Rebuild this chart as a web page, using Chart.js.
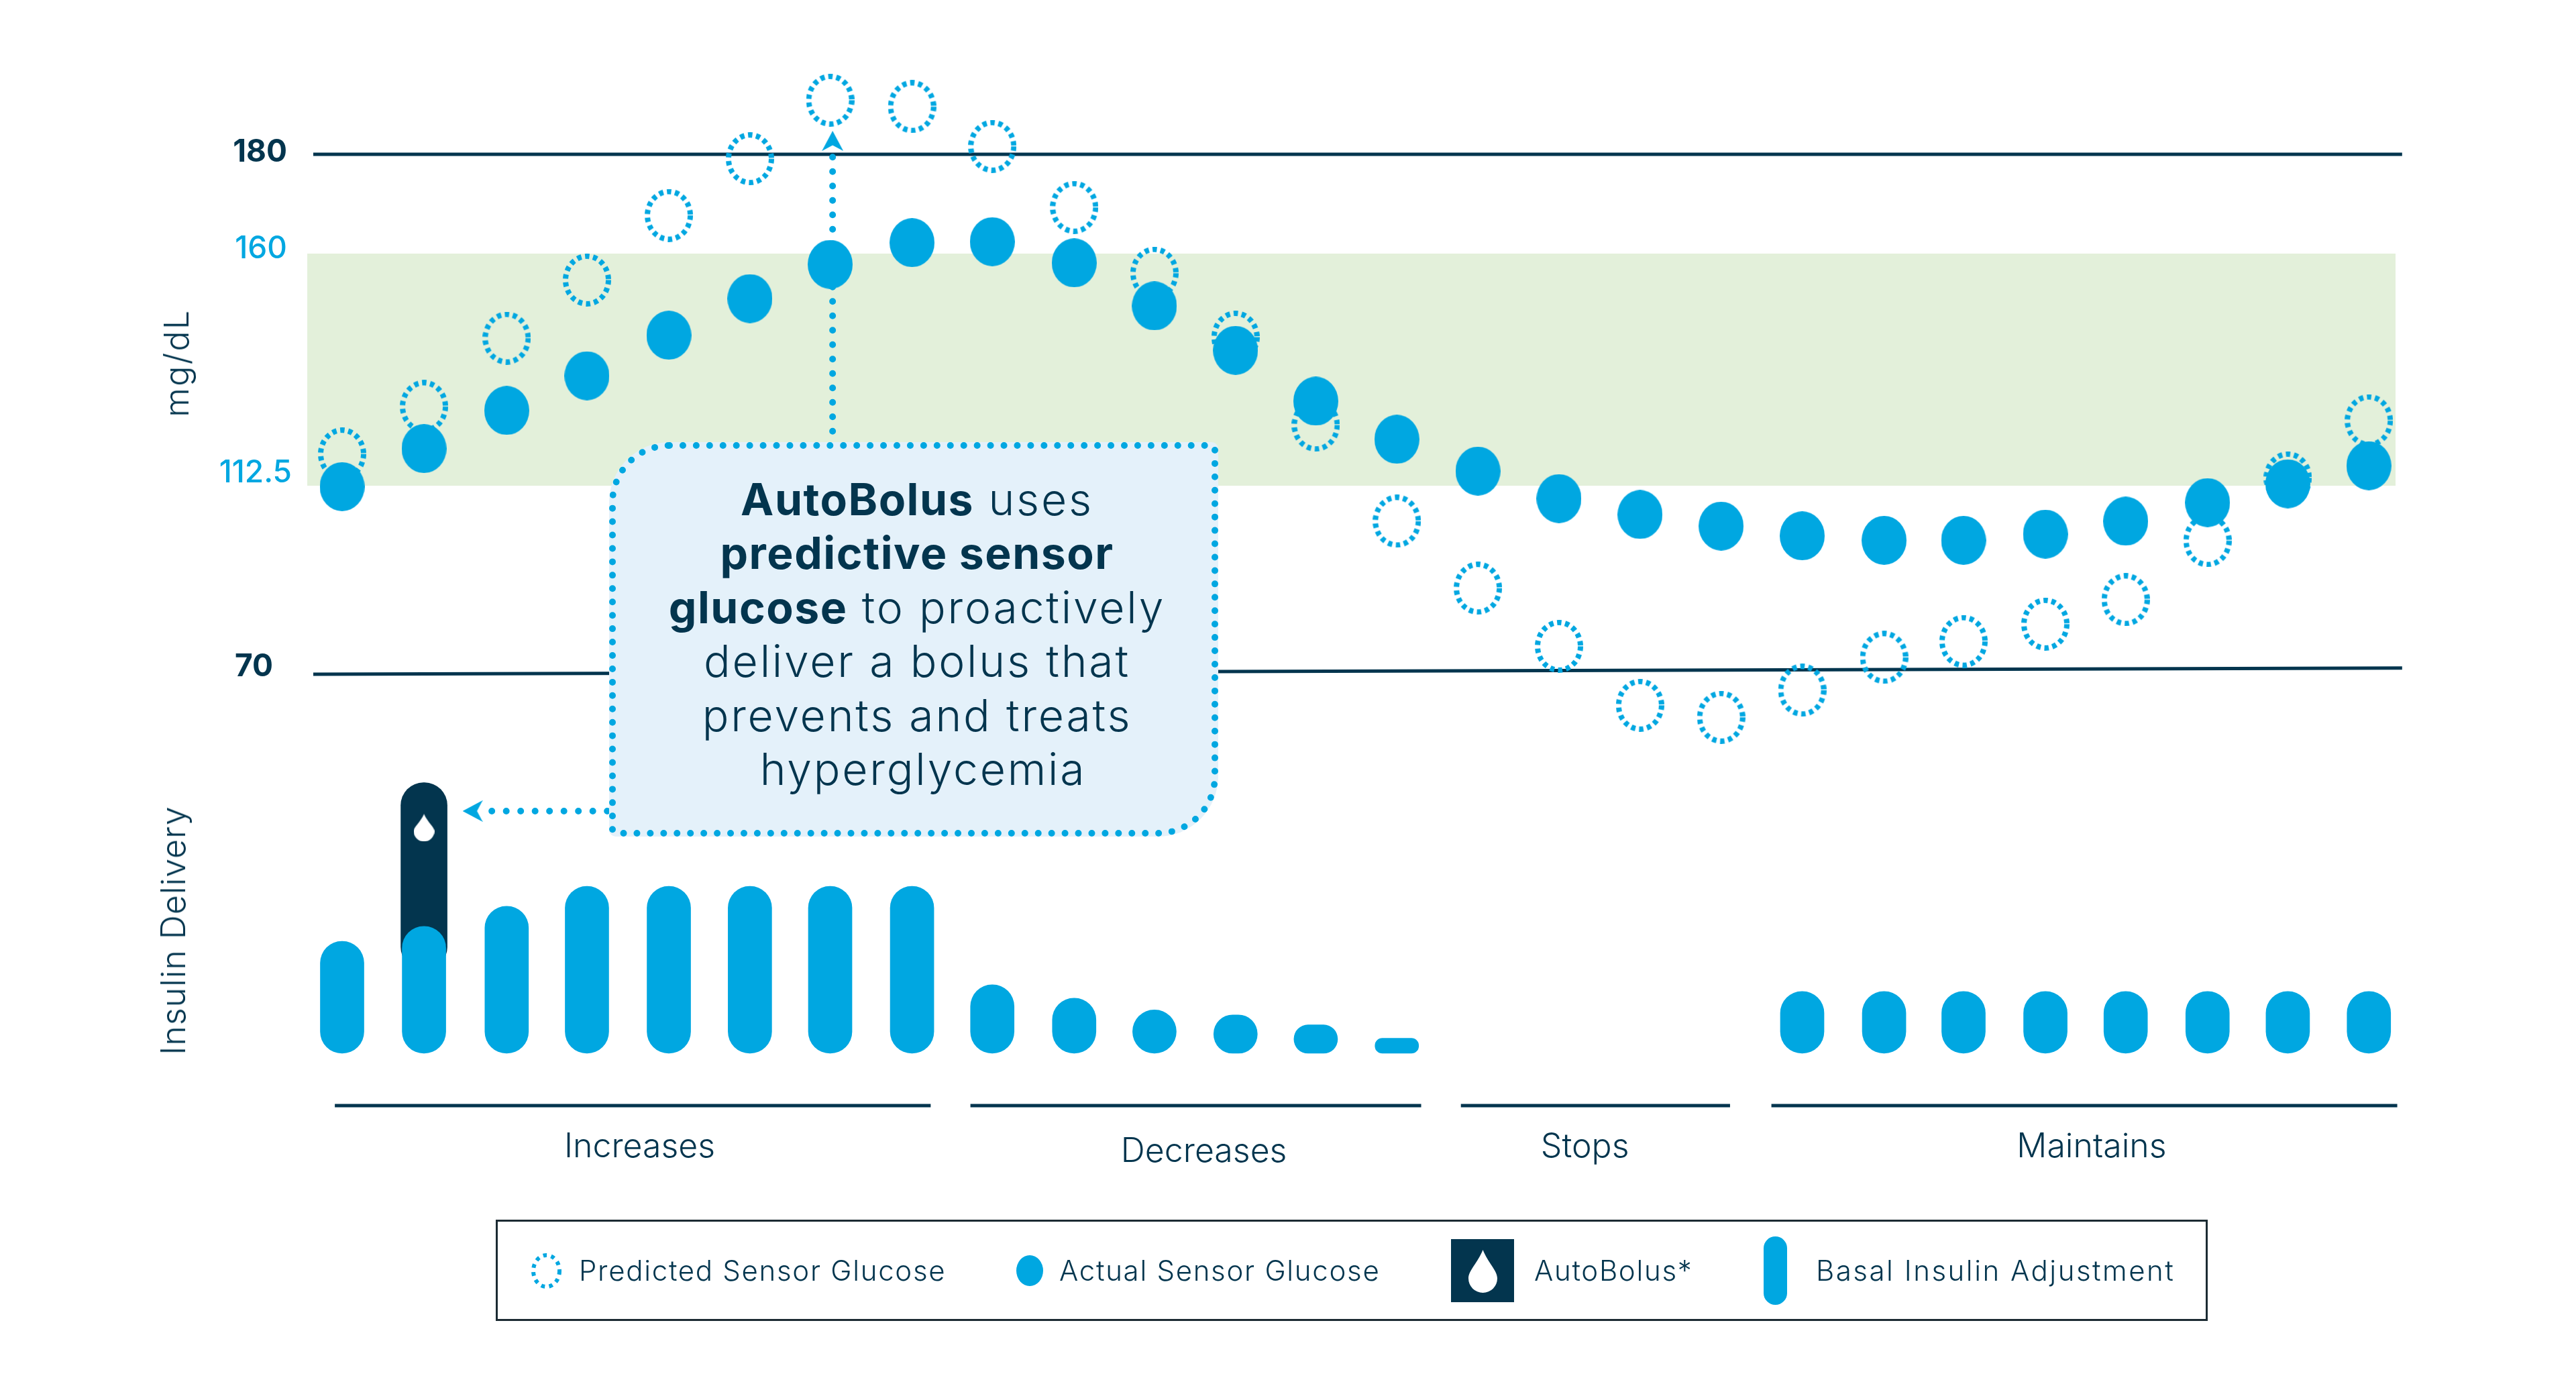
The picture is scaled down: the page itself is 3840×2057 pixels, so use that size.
<!DOCTYPE html>
<html>
<head>
<meta charset="utf-8">
<title>AutoBolus</title>
<script src="https://cdn.jsdelivr.net/npm/chart.js@4/dist/chart.umd.js"></script>
<style>
    body { margin: 0; background: #fff; font-family: Inter, sans-serif; color: #03354e; }
    #wrap { position: relative; width: 3840px; height: 2057px; overflow: hidden; }
    #chart { position: absolute; left: 0; top: 0; }
    .axisTitle { position: absolute; font-size: 50px; font-weight: 300; white-space: nowrap; transform: translate(-50%, -50%) rotate(-90deg); }
    #callout {
        position: absolute; left: 908px; top: 659px; width: 908px; height: 588px; box-sizing: border-box;
        border: 10px dotted #00a7e1; border-radius: 90px 10px 90px 10px; background: #e4f1fa;
        padding-top: 35px; padding-left: 10px; text-align: center;
        font-size: 66px; line-height: 80.4px; font-weight: 300; letter-spacing: 2.8px; white-space: nowrap;
    }
    #callout b { font-weight: 700; letter-spacing: 1.5px; }
    #legendBox { position: absolute; left: 739px; top: 1818px; width: 2552px; height: 151px; box-sizing: border-box; border: 3px solid #1c2b33; }
    .legendText { position: absolute; top: 1869px; font-size: 42px; line-height: 50px; font-weight: 300; letter-spacing: 1.7px; white-space: nowrap; }
    .legendIcon { position: absolute; }
</style>
</head>
<body>
<div id="wrap">
    <canvas id="chart" width="3840" height="2057"></canvas>
    <div class="axisTitle" style="left:263px; top:541px; letter-spacing:2.4px;">mg/dL</div>
    <div class="axisTitle" style="left:258px; top:1387px; letter-spacing:1px;">Insulin Delivery</div>
    <div id="callout"><b>AutoBolus</b> uses<br><b>predictive sensor</b><br><b>glucose</b> to proactively<br>deliver a bolus that<br>prevents and treats<br><span style="position:relative; left:9px;">hyperglycemia</span></div>
    <div id="legendBox"></div>
    <div class="legendText" style="left:863px;">Predicted Sensor Glucose</div>
    <div class="legendText" style="left:1579px;">Actual Sensor Glucose</div>
    <div class="legendIcon" style="left:2163px; top:1847px; width:94px; height:94px; background:#03354e;"></div>
    <div class="legendText" style="left:2287px;">AutoBolus*</div>
    <div class="legendIcon" style="left:2629px; top:1843px; width:35px; height:102px; border-radius:18px; background:#00a7e1;"></div>
    <div class="legendText" style="left:2707px; letter-spacing:2.5px;">Basal Insulin Adjustment</div>
</div>

<script>
// Time slots along the x axis (the spacing is not perfectly even)
const slots = [0, 1.01, 2.03, 3.02, 4.03, 5.03, 6.02, 7.03, 8.02, 9.03, 10.02, 11.02, 12.01,
    13.01, 14.01, 15.01, 16.01, 17.01, 18.01, 19.02, 20, 21.01, 22, 23.01, 24, 25];

// Sensor glucose (mg/dL)
const actualGlucose = [112.3, 120.1, 127.9, 135, 143.3, 150.8, 157.8, 162.2, 162.4, 158.1, 149.3, 140.2, 129.8,
    122, 115.5, 109.6, 106, 103.4, 101.2, 100.2, 100.2, 101.6, 104.5, 108.7, 112.9, 116.6];
const predictedGlucose = [119, 128.7, 142.7, 154.6, 167.7, 179.1, 190.9, 189.6, 181.6, 169.3, 156, 142.9, 124.9,
    104.5, 89.4, 76.3, 63, 60.3, 66.4, 73.8, 77.4, 81.3, 86.8, 100.1, 114.1, 125.8];

// Insulin delivery, relative units
const basalInsulin = [6.7, 7.6, 8.8, 10, 10, 10, 10, 10, 4.1, 3.3, 2.6, 2.3, 1.7, 0.9, 0, 0, 0, 0,
    3.7, 3.7, 3.7, 3.7, 3.7, 3.7, 3.7, 3.7];
const autoBolusSlot = 1.01;
const autoBolusRange = [5, 16.2];
const autoBolusDropLevel = 13.5;

// Axis ticks and target range
const glucoseTicks = [180, 160, 112.5, 70];
const glucoseTickColors = ['#03354e', '#00a7e1', '#00a7e1', '#03354e'];
const glucoseTickWeights = [700, 500, 500, 700];
const targetRange = [112.5, 160];
const lowLimitLine = [70, 71.4];   // the line leans a little in the picture
const highLimitLine = [180, 180];

// Group brackets under the bars
const groupLabels = ['Increases', 'Decreases', 'Stops', 'Maintains'];
const groupCenters = [3.67, 10.63, 15.33, 21.58];
const groupStarts = [-0.09, 7.75, 13.8, 17.63];
const groupEnds = [7.26, 13.31, 17.12, 25.35];
const groupLineLevel = -3.13;

// Dotted arrows from the callout
const upArrowSlot = 6.05;
const upArrowGlucose = [120.7, 179.5];
const upArrowHead = 182.7;
const leftArrowSlots = [3.27, 1.72];
const leftArrowHeadSlot = 1.61;
const leftArrowLevel = 14.5;

const DARK = '#03354e';
const BLUE = '#00a7e1';

// Chart area in the page
const AREA_TOP = 0;
const AREA_BOTTOM = 1662;
const AREA_LEFT = 458;
const AREA_RIGHT = 3640;

// Small nudges of tick labels [dx, dy], the picture does not sit them on the lines
const labelShifts = {
    y: [[0, -3], [0, -7], [7, -19], [-21, -11]],
    x: [[0, 0], [0, 7], [0, 0], [0, 0]]
};

class ShiftedScale extends Chart.LinearScale {
    static id = 'shifted';
    static defaults = Chart.LinearScale.defaults;
    // The chart area is fixed by hand, labels must not push it in
    getPadding() {
        return { left: 0, top: 0, right: 0, bottom: 0 };
    }
    _computeLabelItems(chartArea) {
        const items = super._computeLabelItems(chartArea);
        const shifts = labelShifts[this.id] || [];
        items.forEach((item, i) => {
            if (shifts[i]) {
                const t = item.options.translation;
                item.options.translation = [t[0] + shifts[i][0], t[1] + shifts[i][1]];
            }
        });
        return items;
    }
}

// The picture's glucose axis is not quite linear, so map it piece by piece
class GlucoseScale extends ShiftedScale {
    static id = 'glucose';
    static defaults = Chart.LinearScale.defaults;
    getPixelForValue(value) {
        const fracs = [230, 378, 724, 1005].map(p => (p - AREA_TOP) / (AREA_BOTTOM - AREA_TOP));
        let i = 0;
        while (i < glucoseTicks.length - 2 && value < glucoseTicks[i + 1]) i++;
        const t = (glucoseTicks[i] - value) / (glucoseTicks[i] - glucoseTicks[i + 1]);
        return this.top + (fracs[i] + t * (fracs[i + 1] - fracs[i])) * this.height;
    }
}
Chart.register(ShiftedScale, GlucoseScale);

// Dashed ring for predicted glucose
function makeRing(w, h, lineWidth, dash, gap) {
    const c = document.createElement('canvas');
    c.width = w;
    c.height = h;
    const ctx = c.getContext('2d');
    ctx.strokeStyle = BLUE;
    ctx.lineWidth = lineWidth;
    ctx.setLineDash([dash, gap]);
    ctx.beginPath();
    ctx.ellipse(w / 2, h / 2, w / 2 - lineWidth / 2, h / 2 - lineWidth / 2, 0, 0, Math.PI * 2);
    ctx.stroke();
    return c;
}

// Filled oval for actual glucose
function makeOval(w, h) {
    const c = document.createElement('canvas');
    c.width = w;
    c.height = h;
    const ctx = c.getContext('2d');
    ctx.fillStyle = BLUE;
    ctx.beginPath();
    ctx.ellipse(w / 2, h / 2, w / 2, h / 2, 0, 0, Math.PI * 2);
    ctx.fill();
    return c;
}

// White insulin drop
function makeDrop(w, h) {
    const c = document.createElement('canvas');
    c.width = w;
    c.height = h;
    const ctx = c.getContext('2d');
    const r = w / 2;
    ctx.fillStyle = '#fff';
    ctx.beginPath();
    ctx.moveTo(r, 0);
    ctx.bezierCurveTo(r + r * 0.35, h * 0.3, w, h * 0.48, w, h - r);
    ctx.arc(r, h - r, r, 0, Math.PI);
    ctx.bezierCurveTo(0, h * 0.48, r - r * 0.35, h * 0.3, r, 0);
    ctx.fill();
    return c;
}

// Notched arrow head, pointing up
function makeArrowHead(w, h) {
    const c = document.createElement('canvas');
    c.width = w;
    c.height = h;
    const ctx = c.getContext('2d');
    ctx.fillStyle = BLUE;
    ctx.beginPath();
    ctx.moveTo(w / 2, 0);
    ctx.lineTo(w, h);
    ctx.lineTo(w / 2, h * 0.72);
    ctx.lineTo(0, h);
    ctx.closePath();
    ctx.fill();
    return c;
}

function flatLine(startX, endX, values, extra) {
    return Object.assign({
        type: 'line',
        data: [{ x: startX, y: values[0] }, { x: endX, y: values[1] }],
        borderColor: DARK,
        borderWidth: 5,
        pointRadius: 0,
        tension: 0,
        clip: false,
        yAxisID: 'y'
    }, extra);
}

function singlePoint(label, x, y, image, axis, order, rotation) {
    return {
        type: 'line',
        label: label,
        data: [{ x: x, y: y }],
        showLine: false,
        pointStyle: image,
        pointRadius: 10,
        pointRotation: rotation || 0,
        clip: false,
        yAxisID: axis,
        order: order
    };
}

function dottedLine(label, data, axis) {
    return {
        type: 'line',
        label: label,
        data: data,
        borderColor: BLUE,
        borderWidth: 10,
        borderCapStyle: 'round',
        borderDash: [0, 21.5],
        pointRadius: 0,
        clip: false,
        yAxisID: axis,
        order: 7
    };
}

function addLegendIcon(canvas, left, top) {
    canvas.className = 'legendIcon';
    canvas.style.left = left + 'px';
    canvas.style.top = top + 'px';
    document.getElementById('wrap').appendChild(canvas);
}

// Group brackets
const groupLineSets = groupLabels.map((name, i) => flatLine(groupStarts[i], groupEnds[i], [groupLineLevel, groupLineLevel], {
    label: name,
    yAxisID: 'yIns',
    order: 8
}));

const chart = new Chart(document.getElementById('chart').getContext('2d'), {
    type: 'line',
    data: {
        datasets: [
            // Target range band
            flatLine(-0.43, 25.33, [targetRange[1], targetRange[1]], {
                label: 'Range top', borderWidth: 0, borderColor: 'transparent',
                backgroundColor: '#e3f0da', fill: '+1', order: 10
            }),
            flatLine(-0.43, 25.33, [targetRange[0], targetRange[0]], {
                label: 'Range bottom', borderWidth: 0, borderColor: 'transparent', order: 10
            }),
            // Limit lines
            flatLine(-0.356, 25.41, highLimitLine, { label: '180 line', order: 9 }),
            flatLine(-0.356, 25.41, lowLimitLine, { label: '70 line', order: 9 }),
            ...groupLineSets,
            // Dotted arrows
            dottedLine('Up arrow', upArrowGlucose.map(v => ({ x: upArrowSlot, y: v })), 'y'),
            singlePoint('Up arrow head', upArrowSlot, upArrowHead, makeArrowHead(32, 30), 'y', 7),
            dottedLine('Left arrow', leftArrowSlots.map(s => ({ x: s, y: leftArrowLevel })), 'yIns'),
            singlePoint('Left arrow head', leftArrowHeadSlot, leftArrowLevel, makeArrowHead(32, 30), 'yIns', 7, -90),
            // Predicted sensor glucose
            {
                type: 'line',
                label: 'Predicted Sensor Glucose',
                data: slots.map((s, i) => ({ x: s, y: predictedGlucose[i] })),
                showLine: false,
                pointStyle: makeRing(72, 79, 8, 6.5, 5.5),
                pointRadius: 10,
                clip: false, yAxisID: 'y', order: 6
            },
            // Actual sensor glucose
            {
                type: 'line',
                label: 'Actual Sensor Glucose',
                data: slots.map((s, i) => ({ x: s, y: actualGlucose[i] })),
                showLine: false,
                pointStyle: makeOval(67, 73),
                pointRadius: 10,
                clip: false, yAxisID: 'y', order: 5
            },
            // AutoBolus bar, sits behind the basal bar
            {
                type: 'bar',
                label: 'AutoBolus',
                data: [{ x: autoBolusSlot, y: autoBolusRange }],
                backgroundColor: DARK,
                barThickness: 69,
                borderRadius: 34,
                borderSkipped: false,
                grouped: false,
                yAxisID: 'yIns',
                order: 4
            },
            // Basal insulin, a slot with no delivery gets no bar at all
            {
                type: 'bar',
                label: 'Basal Insulin Adjustment',
                data: slots.map((s, i) => ({ x: s, y: basalInsulin[i] || null })),
                backgroundColor: BLUE,
                barThickness: 65,
                borderRadius: 33,
                borderSkipped: false,
                grouped: false,
                yAxisID: 'yIns',
                order: 3
            },
            // Drop on the AutoBolus bar
            singlePoint('AutoBolus drop', autoBolusSlot, autoBolusDropLevel, makeDrop(31, 41), 'yIns', 2)
        ]
    },
    options: {
        responsive: false,
        animation: false,
        events: [],
        layout: {
            autoPadding: false,
            padding: { left: 0, right: 3840 - AREA_RIGHT, top: AREA_TOP, bottom: 0 }
        },
        plugins: {
            legend: { display: false },
            tooltip: { enabled: false }
        },
        scales: {
            x: {
                type: 'shifted',
                min: (AREA_LEFT - 510) / 120.85,
                max: (AREA_RIGHT - 510) / 120.85,
                offset: false,
                border: { display: false },
                grid: { display: false, drawTicks: false },
                afterBuildTicks: scale => { scale.ticks = groupCenters.map(v => ({ value: v })); },
                afterFit: scale => { scale.height = 2057 - AREA_BOTTOM; },
                ticks: {
                    autoSkip: false,
                    maxRotation: 0,
                    padding: 18,
                    color: DARK,
                    font: { family: 'Inter', size: 50, weight: 300 },
                    callback: (value, i) => groupLabels[i]
                }
            },
            y: {
                type: 'glucose',
                position: 'left',
                min: 40,
                max: 210,
                border: { display: false },
                grid: { display: false, drawTicks: false },
                afterBuildTicks: scale => { scale.ticks = glucoseTicks.map(v => ({ value: v })); },
                afterFit: scale => { scale.width = AREA_LEFT; },
                ticks: {
                    autoSkip: false,
                    padding: 30,
                    color: ctx => glucoseTickColors[ctx.index],
                    font: ctx => ({ family: 'Inter', size: 46, weight: glucoseTickWeights[ctx.index] }),
                    callback: value => String(value)
                }
            },
            yIns: {
                type: 'linear',
                display: false,
                min: (1570 - AREA_BOTTOM) / 24.9,
                max: (1570 - AREA_TOP) / 24.9
            }
        }
    }
});

// Legend icons
addLegendIcon(makeRing(45, 53, 6, 5.5, 6.5), 792, 1868);
addLegendIcon(makeOval(40, 46), 1515, 1871);
addLegendIcon(makeDrop(43, 64), 2189, 1863);
</script>
</body>
</html>
